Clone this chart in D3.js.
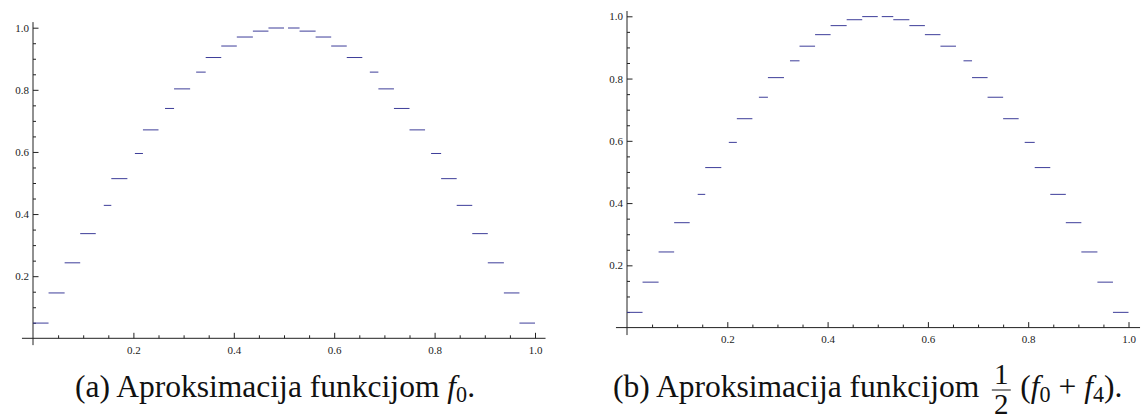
<!DOCTYPE html>
<html>
<head>
<meta charset="utf-8">
<script src="https://cdn.jsdelivr.net/npm/d3@7"></script>
<style>
  body { margin: 0; background: #fff; }
  svg { display: block; }
</style>
</head>
<body>
<svg id="chart" width="1142" height="420"></svg>
<script>
// step heights (32 steps on [0, 1])
const stepValuesA = [0.049, 0.146, 0.243, 0.337, 0.428, 0.514, 0.595, 0.671, 0.740, 0.803, 0.857, 0.904, 0.941, 0.970, 0.989, 0.999,
                     0.999, 0.989, 0.970, 0.941, 0.904, 0.857, 0.803, 0.740, 0.671, 0.595, 0.514, 0.428, 0.337, 0.243, 0.146, 0.049];
const stepValuesB = [0.049, 0.146, 0.243, 0.337, 0.428, 0.514, 0.595, 0.671, 0.740, 0.803, 0.857, 0.904, 0.941, 0.970, 0.989, 0.999,
                     0.999, 0.989, 0.970, 0.941, 0.904, 0.857, 0.803, 0.740, 0.671, 0.595, 0.514, 0.428, 0.337, 0.243, 0.146, 0.049];
// visible x extent of each step (some pieces start late, as in the original plot)
const stepStart = [0, 0.031, 0.063, 0.094, 0.141, 0.156, 0.203, 0.219, 0.263, 0.281, 0.325, 0.344, 0.375, 0.406, 0.438, 0.469,
                   0.508, 0.531, 0.563, 0.594, 0.625, 0.671, 0.688, 0.719, 0.750, 0.793, 0.813, 0.844, 0.875, 0.906, 0.938, 0.969];
const stepEnd = [0.031, 0.063, 0.094, 0.125, 0.156, 0.188, 0.219, 0.250, 0.281, 0.313, 0.344, 0.375, 0.406, 0.438, 0.469, 0.500,
                 0.531, 0.563, 0.594, 0.625, 0.656, 0.688, 0.719, 0.750, 0.781, 0.813, 0.844, 0.875, 0.906, 0.938, 0.969, 1.000];

const majorTicks = [0.2, 0.4, 0.6, 0.8, 1.0];
const tickLabels = ["0.2", "0.4", "0.6", "0.8", "1.0"];
const minorTicks = [0.05, 0.1, 0.15, 0.25, 0.3, 0.35, 0.45, 0.5, 0.55, 0.65, 0.7, 0.75, 0.85, 0.9, 0.95];

const lineColor = "#3d3d99";
const axisColor = "#222";
const tickFont = "Liberation Serif, Times New Roman, serif";
const captionFont = "Liberation Serif, Times New Roman, serif";

const svg = d3.select("#chart");

const panels = [
  { values: stepValuesA, left: 33, right: 535, bottom: 338.3, top: 27.7, xExt: [-0.022, 1.021], yExt: [-0.022, 1.018] },
  { values: stepValuesB, left: 627, right: 1128.5, bottom: 327.6, top: 16.3, xExt: [-0.022, 1.023], yExt: [-0.024, 1.017] }
];

panels.forEach(p => {
  const x = d3.scaleLinear().domain([0, 1]).range([p.left, p.right]);
  const y = d3.scaleLinear().domain([0, 1]).range([p.bottom, p.top]);
  const g = svg.append("g");

  // axis lines
  g.append("line")
    .attr("x1", x(p.xExt[0])).attr("x2", x(p.xExt[1]))
    .attr("y1", y(0)).attr("y2", y(0))
    .attr("stroke", axisColor).attr("stroke-width", 1);
  g.append("line")
    .attr("x1", x(0)).attr("x2", x(0))
    .attr("y1", y(p.yExt[0])).attr("y2", y(p.yExt[1]))
    .attr("stroke", axisColor).attr("stroke-width", 1);

  const fmt = (d, i) => tickLabels[i];

  // x axis ticks (inside the plot), labels below
  const gx = g.append("g").attr("transform", `translate(0,${y(0)})`);
  gx.call(d3.axisBottom(x).tickValues(majorTicks).tickFormat(fmt).tickSizeInner(-5.5).tickSizeOuter(0).tickPadding(8));
  gx.append("g").call(d3.axisBottom(x).tickValues(minorTicks).tickFormat("").tickSizeInner(-3).tickSizeOuter(0));

  // y axis
  const gy = g.append("g").attr("transform", `translate(${x(0)},0)`);
  gy.call(d3.axisLeft(y).tickValues(majorTicks).tickFormat(fmt).tickSizeInner(-5.5).tickSizeOuter(0).tickPadding(4));
  gy.append("g").call(d3.axisLeft(y).tickValues(minorTicks).tickFormat("").tickSizeInner(-3).tickSizeOuter(0));

  g.selectAll(".domain").remove();
  g.selectAll(".tick line").attr("stroke", axisColor);
  g.selectAll(".tick text")
    .attr("fill", axisColor)
    .style("font-family", tickFont)
    .style("font-size", "11px");

  // the steps
  g.selectAll(".step")
    .data(p.values)
    .enter()
    .append("line")
    .attr("class", "step")
    .attr("x1", (d, i) => x(stepStart[i]))
    .attr("x2", (d, i) => x(stepEnd[i]))
    .attr("y1", d => y(d))
    .attr("y2", d => y(d))
    .attr("stroke", lineColor)
    .attr("stroke-width", 1);
});

// captions
const baseY = 397;
const capA = svg.append("text")
  .attr("x", 75).attr("y", baseY)
  .style("font-family", captionFont).style("font-size", "26px").attr("fill", "#111");
capA.append("tspan").text("(a) Aproksimacija funkcijom ");
capA.append("tspan").style("font-style", "italic").text("f");
capA.append("tspan").attr("dy", 5).style("font-size", "18px").text("0");
capA.append("tspan").attr("dy", -5).text(".");

// scale caption size so that its width matches the original
const wA = capA.node().getComputedTextLength();
const fs = 26 * 400 / wA;
capA.style("font-size", fs + "px");
capA.selectAll("tspan").filter((d, i) => i === 2).style("font-size", (fs * 0.7) + "px");

const capB = svg.append("text")
  .attr("x", 613).attr("y", baseY)
  .style("font-family", captionFont).style("font-size", fs + "px").attr("fill", "#111")
  .text("(b) Aproksimacija funkcijom");
const wB = capB.node().getComputedTextLength();
const fracFs = fs * 0.92;
const fracX = 613 + wB + fs * 0.4;
const fracW = fs * 0.6;
const barY = baseY - 7;
svg.append("line")
  .attr("x1", fracX).attr("x2", fracX + fracW)
  .attr("y1", barY).attr("y2", barY)
  .attr("stroke", "#111").attr("stroke-width", 1);
svg.append("text")
  .attr("x", fracX + fracW / 2).attr("y", barY - 6)
  .attr("text-anchor", "middle")
  .style("font-family", captionFont).style("font-size", fracFs + "px").attr("fill", "#111")
  .text("1");
svg.append("text")
  .attr("x", fracX + fracW / 2).attr("y", 414)
  .attr("text-anchor", "middle")
  .style("font-family", captionFont).style("font-size", fracFs + "px").attr("fill", "#111")
  .text("2");
const capB2 = svg.append("text")
  .attr("x", fracX + fracW + fs * 0.3).attr("y", baseY)
  .style("font-family", captionFont).style("font-size", fs + "px").attr("fill", "#111");
capB2.append("tspan").text("(");
capB2.append("tspan").style("font-style", "italic").text("f");
capB2.append("tspan").attr("dy", 5).style("font-size", (fs * 0.7) + "px").text("0");
capB2.append("tspan").attr("dy", -5).text(" + ");
capB2.append("tspan").style("font-style", "italic").text("f");
capB2.append("tspan").attr("dy", 5).style("font-size", (fs * 0.7) + "px").text("4");
capB2.append("tspan").attr("dy", -5).text(").");
</script>
</body>
</html>
